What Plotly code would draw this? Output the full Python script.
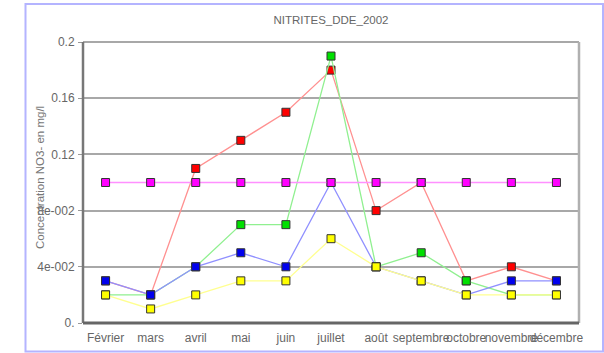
import plotly.graph_objects as go

# Monthly nitrite concentrations (mg/l), DDE 2002
mois = ["Février", "mars", "avril", "mai", "juin", "juillet", "août",
        "septembre", "octobre", "novembre", "décembre"]

serie_rouge = [0.03, 0.02, 0.11, 0.13, 0.15, 0.18, 0.08, 0.10, 0.03, 0.04, 0.03]
serie_verte = [0.02, 0.02, 0.04, 0.07, 0.07, 0.19, 0.04, 0.05, 0.03, 0.02, 0.02]
serie_bleue = [0.03, 0.02, 0.04, 0.05, 0.04, 0.10, 0.04, 0.03, 0.02, 0.03, 0.03]
serie_jaune = [0.02, 0.01, 0.02, 0.03, 0.03, 0.06, 0.04, 0.03, 0.02, 0.02, 0.02]
seuil = [0.10] * len(mois)

y_ticks = [0, 0.04, 0.08, 0.12, 0.16, 0.2]
y_tick_text = ["0.", "4e-002", "8e-002", "0.12", "0.16", "0.2"]

styles = [
    (serie_rouge, "#ff9090", "#ff0000"),
    (serie_verte, "#90f090", "#00e000"),
    (serie_bleue, "#9090ff", "#0000ee"),
    (serie_jaune, "#ffff90", "#ffff00"),
    (seuil, "#ff90ff", "#ff00ff"),
]

fig = go.Figure()
for vals, line_col, mk_col in styles:
    fig.add_trace(go.Scatter(
        x=mois, y=vals, mode="lines+markers",
        line=dict(color=line_col, width=1.3),
        marker=dict(symbol="square", size=8, color=mk_col,
                    line=dict(color="#333333", width=1)),
        showlegend=False, cliponaxis=False,
    ))

W, H = 604, 353
L, R, T, B = 83, 25, 42, 30
pw, ph = W - L - R, H - T - B


def px_x(p):
    return (p - L) / pw


def px_y(p):
    return (H - B - p) / ph


grey_font = dict(family="Liberation Sans, Arial, sans-serif", size=12, color="#666666")

fig.update_layout(
    width=W, height=H,
    margin=dict(l=L, r=R, t=T, b=B, autoexpand=False),
    paper_bgcolor="white", plot_bgcolor="white",
    font=grey_font,
    title=dict(text="NITRITES_DDE_2002", x=px_x(331), xref="paper", xanchor="center",
               y=1 - 20 / H, yanchor="middle", font=dict(size=11.5, color="#666666")),
    xaxis=dict(
        type="category", categoryorder="array", categoryarray=mois,
        range=[-0.5, len(mois) - 0.5], automargin=False,
        showgrid=False, zeroline=False, showline=False,
        ticks="", tickfont=dict(size=12, color="#666666"), ticklabelstandoff=6,
        tickangle=0,
    ),
    yaxis=dict(
        range=[0, 0.2], tickvals=y_ticks, ticktext=y_tick_text, automargin=False,
        showgrid=True, gridcolor="#a8a8a8", gridwidth=2,
        zeroline=False, showline=False,
        ticks="outside", ticklen=4, tickcolor="#999999", tickwidth=1,
        ticklabelstandoff=1,
        tickfont=dict(size=12, color="#666666"),
    ),
    annotations=[
        dict(text="Concentration NO3- en mg/l", textangle=-90,
             xref="paper", yref="paper", x=px_x(40), y=px_y(178),
             xanchor="center", yanchor="middle", showarrow=False,
             font=dict(size=11.5, color="#777777")),
    ],
    shapes=[
        # outer chart border
        dict(type="rect", xref="paper", yref="paper",
             x0=px_x(25.5), x1=px_x(603), y0=px_y(351.5), y1=px_y(4),
             line=dict(color="#b4b4ff", width=2), layer="below"),
        # plot frame: light top/right, heavy left/bottom
        dict(type="line", xref="paper", yref="paper", x0=0, x1=1, y0=1, y1=1,
             line=dict(color="#a8a8a8", width=2)),
        dict(type="line", xref="paper", yref="paper", x0=1, x1=1, y0=0, y1=1,
             line=dict(color="#b0b0b0", width=2.5)),
        dict(type="line", xref="paper", yref="paper", x0=0, x1=0, y0=0, y1=1,
             line=dict(color="#777777", width=2.5)),
        dict(type="line", xref="paper", yref="paper", x0=0, x1=1, y0=0, y1=0,
             line=dict(color="#666666", width=3)),
    ],
)

fig.write_html("out.html")
